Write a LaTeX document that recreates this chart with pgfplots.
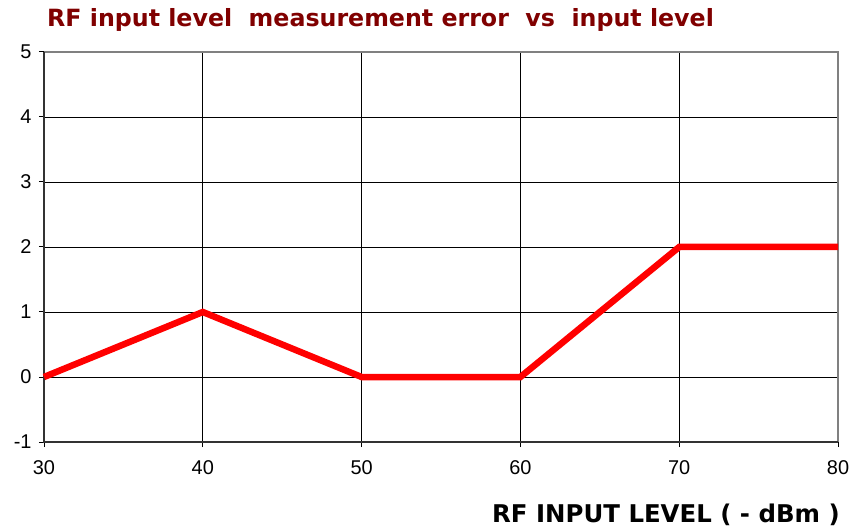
\documentclass[border=0pt]{standalone}
\usepackage{pgfplots}
\pgfplotsset{compat=1.18}
\usepackage{fontspec}
\setmainfont{Liberation Sans}
\newfontfamily\verdana{DejaVu Sans}
\definecolor{titlered}{RGB}{128,0,0}
\begin{document}
\begin{tikzpicture}
\begin{axis}[
  scale only axis,
  width=794bp, height=390bp,
  xmin=30, xmax=80, ymin=-1, ymax=5,
  xtick={30,40,...,80}, ytick={-1,0,...,5},
  grid=major,
  major grid style={black, line width=0.8bp},
  axis line style={draw=none},
  tick style={black, line width=1bp},
  tick align=outside,
  major tick length=5bp,
  xtick pos=bottom, ytick pos=left,
  ticklabel style={font=\fontsize{20}{22}\selectfont},
  /pgf/number format/assume math mode=true,
  xticklabel style={yshift=-10bp},
  yticklabel style={xshift=-4bp},
  clip=false,
]
\draw[gray, line width=2.5bp] (rel axis cs:0,1) -- (rel axis cs:1,1) -- (rel axis cs:1,0);
\draw[black!80, line width=2bp] (rel axis cs:0,1) -- (rel axis cs:0,0) -- (rel axis cs:1,0);
\addplot[red, line width=6.5bp, line join=miter] coordinates {
  (30,0) (40,1) (50,0) (60,0) (70,2) (80,2)
};
\coordinate (sw) at (rel axis cs:0,0);
\coordinate (ne) at (rel axis cs:1,1);
\node[anchor=base west, inner sep=0, text=titlered, font=\verdana\bfseries\fontsize{23.8}{26}\selectfont] at ([xshift=3bp,yshift=25bp]rel axis cs:0,1) {RF input level\ \ measurement error\ \ vs\ \ input level};
\node[anchor=base east, inner sep=0, font=\verdana\bfseries\fontsize{24.5}{26}\selectfont] at ([xshift=2bp,yshift=-80bp]rel axis cs:1,0) {RF INPUT LEVEL ( - dBm )};
\end{axis}
\path (sw) +(-44bp,-90bp) (ne) +(25bp,52bp);
\end{tikzpicture}
\end{document}
